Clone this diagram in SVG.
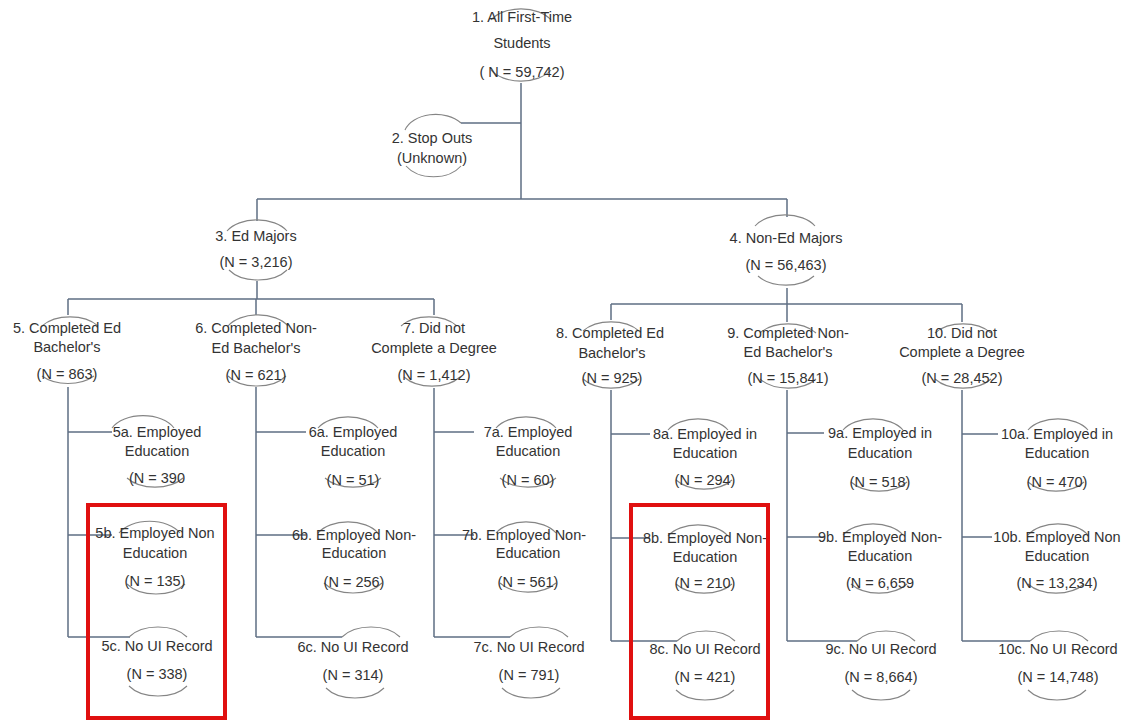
<svg xmlns="http://www.w3.org/2000/svg" width="1128" height="721" viewBox="0 0 1128 721">
<style>
.t{font-family:"Liberation Sans",Arial,sans-serif;font-size:14.5px;fill:#333333;text-anchor:middle}
.arc{fill:none;stroke:#858585;stroke-width:1.1}
.conn{fill:none;stroke:#5f6f84;stroke-width:1.5}
.hl{fill:none;stroke:#e01010;stroke-width:4}
</style>
<rect width="1128" height="721" fill="#ffffff"/>
<g id="connectors" class="conn">
<path d="M521,83 V199 M461,123 H521 M257,199 H787 M257,199 V221 M787,199 V217"/>
<path d="M257,281 V299 M68,299 H434 M68,299 V315 M256,299 V315 M434,299 V315"/>
<path d="M787,288 V304 M611,304 H962 M611,304 V320 M787,304 V322 M962,304 V322"/>
<path d="M68,387 V637 M68,432 H112 M68,535 H112 M68,637 H130"/>
<path d="M256,387 V637 M256,432 H306 M256,535 H306 M256,637 H342"/>
<path d="M434,388 V637 M434,432 H474 M434,535 H474 M434,637 H510"/>
<path d="M611,390 V641 M611,434 H650 M611,538 H650 M611,641 H677"/>
<path d="M787,390 V641 M787,433 H824 M787,537 H824 M787,641 H857"/>
<path d="M962,390 V641 M962,434 H998 M962,537 H992 M962,641 H1030"/>
</g>
<g id="n1"><path class="arc" d="M491,20 A34 21 0 0 1 551,20 M491,70 A34 21 0 0 0 551,70"/>
<text class="t" x="522" y="22">1. All First-Time</text><text class="t" x="522" y="48">Students</text><text class="t" x="522" y="77">( N = 59,742)</text></g>
<g id="n2"><path class="arc" d="M405,130 A32 22 0 0 1 461,123 M406,166 A32 22 0 0 0 461,166"/>
<text class="t" x="432" y="143">2. Stop Outs</text><text class="t" x="432" y="163">(Unknown)</text></g>
<g id="n3"><path class="arc" d="M227,231 A34 21 0 0 1 287,231 M229,270 A34 21 0 0 0 287,270"/>
<text class="t" x="256" y="241">3. Ed Majors</text><text class="t" x="256" y="267">(N = 3,216)</text></g>
<g id="n4"><path class="arc" d="M755,226 A34 21 0 0 1 815,226 M758,276 A34 21 0 0 0 814,276"/>
<text class="t" x="786" y="243">4. Non-Ed Majors</text><text class="t" x="786" y="270">(N = 56,463)</text></g>
<g id="n5"><path class="arc" d="M42,326 A34 21 0 0 1 98,326 M42,376 A34 21 0 0 0 94,376"/>
<text class="t" x="67" y="333">5. Completed Ed</text><text class="t" x="67" y="352">Bachelor's</text><text class="t" x="67" y="379">(N = 863)</text></g>
<g id="n6"><path class="arc" d="M228,326 A34 21 0 0 1 288,326 M228,376 A34 21 0 0 0 286,376"/>
<text class="t" x="256" y="333">6. Completed Non-</text><text class="t" x="256" y="353">Ed Bachelor's</text><text class="t" x="256" y="380">(N = 621)</text></g>
<g id="n7"><path class="arc" d="M401,326 A34 21 0 0 1 457,326 M404,377 A34 21 0 0 0 460,377"/>
<text class="t" x="434" y="333">7. Did not</text><text class="t" x="434" y="353">Complete a Degree</text><text class="t" x="434" y="380">(N = 1,412)</text></g>
<g id="n8"><path class="arc" d="M583,331 A34 21 0 0 1 639,331 M583,379 A34 21 0 0 0 639,379"/>
<text class="t" x="610" y="338">8. Completed Ed</text><text class="t" x="612" y="358">Bachelor's</text><text class="t" x="612" y="383">(N = 925)</text></g>
<g id="n9"><path class="arc" d="M760,333 A34 21 0 0 1 816,333 M760,379 A34 21 0 0 0 816,379"/>
<text class="t" x="788" y="338">9. Completed Non-</text><text class="t" x="788" y="357">Ed Bachelor's</text><text class="t" x="788" y="383">(N = 15,841)</text></g>
<g id="n10"><path class="arc" d="M935,333 A34 21 0 0 1 991,333 M935,379 A34 21 0 0 0 991,379"/>
<text class="t" x="962" y="338">10. Did not</text><text class="t" x="962" y="357">Complete a Degree</text><text class="t" x="962" y="383">(N = 28,452)</text></g>

<g id="n5a"><path class="arc" d="M112,428 A34 21 0 0 1 174,428 M127,478 A34 21 0 0 0 183,478"/>
<text class="t" x="157" y="437">5a. Employed</text><text class="t" x="157" y="456">Education</text><text class="t" x="157" y="483">(N = 390</text></g>
<g id="n5b"><path class="arc" d="M119,533 A34 21 0 0 1 180,533 M127,584 A34 21 0 0 0 185,584"/>
<text class="t" x="155" y="538">5b. Employed Non</text><text class="t" x="155" y="558">Education</text><text class="t" x="155" y="586">(N = 135)</text></g>
<g id="n5c"><path class="arc" d="M129,637 A34 21 0 0 1 187,637 M129,686 A34 21 0 0 0 187,686"/>
<text class="t" x="157" y="651">5c. No UI Record</text><text class="t" x="157" y="679">(N =  338)</text></g>

<g id="n6a"><path class="arc" d="M318,428 A34 21 0 0 1 378,428 M325,478 A34 21 0 0 0 381,478"/>
<text class="t" x="353" y="437">6a. Employed</text><text class="t" x="353" y="456">Education</text><text class="t" x="353" y="485">(N = 51)</text></g>
<g id="n6b"><path class="arc" d="M318,533 A34 21 0 0 1 378,533 M324,583 A34 21 0 0 0 382,583"/>
<text class="t" x="354" y="540">6b. Employed Non-</text><text class="t" x="354" y="558">Education</text><text class="t" x="354" y="587">(N = 256)</text></g>
<g id="n6c"><path class="arc" d="M342,637 A34 21 0 0 1 400,637 M326,688 A34 21 0 0 0 384,688"/>
<text class="t" x="353" y="652">6c. No UI Record</text><text class="t" x="353" y="680">(N = 314)</text></g>

<g id="n7a"><path class="arc" d="M496,428 A34 21 0 0 1 556,428 M500,478 A34 21 0 0 0 556,478"/>
<text class="t" x="528" y="437">7a. Employed</text><text class="t" x="528" y="456">Education</text><text class="t" x="528" y="485">(N = 60)</text></g>
<g id="n7b"><path class="arc" d="M496,533 A34 21 0 0 1 556,533 M500,583 A34 21 0 0 0 556,583"/>
<text class="t" x="524" y="540">7b. Employed Non-</text><text class="t" x="528" y="558">Education</text><text class="t" x="528" y="587">(N = 561)</text></g>
<g id="n7c"><path class="arc" d="M510,637 A34 21 0 0 1 568,637 M502,688 A34 21 0 0 0 560,688"/>
<text class="t" x="529" y="652">7c. No UI Record</text><text class="t" x="529" y="680">(N = 791)</text></g>

<g id="n8a"><path class="arc" d="M668,430 A34 21 0 0 1 728,430 M676,480 A34 21 0 0 0 732,480"/>
<text class="t" x="705" y="439">8a. Employed in</text><text class="t" x="705" y="458">Education</text><text class="t" x="705" y="485">(N = 294)</text></g>
<g id="n8b"><path class="arc" d="M668,536 A34 21 0 0 1 728,536 M676,584 A34 21 0 0 0 732,584"/>
<text class="t" x="705" y="543">8b. Employed Non-</text><text class="t" x="705" y="562">Education</text><text class="t" x="705" y="588">(N = 210)</text></g>
<g id="n8c"><path class="arc" d="M677,641 A34 21 0 0 1 735,641 M676,690 A34 21 0 0 0 734,690"/>
<text class="t" x="705" y="654">8c. No UI Record</text><text class="t" x="705" y="682">(N = 421)</text></g>

<g id="n9a"><path class="arc" d="M843,430 A34 21 0 0 1 903,430 M851,482 A34 21 0 0 0 907,482"/>
<text class="t" x="880" y="438">9a. Employed in</text><text class="t" x="880" y="458">Education</text><text class="t" x="880" y="487">(N = 518)</text></g>
<g id="n9b"><path class="arc" d="M843,535 A34 21 0 0 1 903,535 M851,584 A34 21 0 0 0 907,584"/>
<text class="t" x="880" y="542">9b. Employed Non-</text><text class="t" x="880" y="561">Education</text><text class="t" x="880" y="588">(N = 6,659</text></g>
<g id="n9c"><path class="arc" d="M857,641 A34 21 0 0 1 915,641 M852,690 A34 21 0 0 0 910,690"/>
<text class="t" x="881" y="654">9c. No UI Record</text><text class="t" x="881" y="682">(N = 8,664)</text></g>

<g id="n10a"><path class="arc" d="M1028,430 A34 21 0 0 1 1088,430 M1028,482 A34 21 0 0 0 1084,482"/>
<text class="t" x="1057" y="439">10a. Employed in</text><text class="t" x="1057" y="458">Education</text><text class="t" x="1057" y="487">(N = 470)</text></g>
<g id="n10b"><path class="arc" d="M1028,535 A34 21 0 0 1 1088,535 M1028,584 A34 21 0 0 0 1084,584"/>
<text class="t" x="1057" y="542">10b. Employed Non</text><text class="t" x="1057" y="561">Education</text><text class="t" x="1057" y="588">(N = 13,234)</text></g>
<g id="n10c"><path class="arc" d="M1030,641 A34 21 0 0 1 1088,641 M1028,690 A34 21 0 0 0 1086,690"/>
<text class="t" x="1058" y="654">10c. No UI Record</text><text class="t" x="1058" y="682">(N = 14,748)</text></g>

<g id="highlights">
<rect class="hl" x="88" y="505" width="137" height="213"/>
<rect class="hl" x="631" y="505" width="137" height="213"/>
</g>
</svg>
